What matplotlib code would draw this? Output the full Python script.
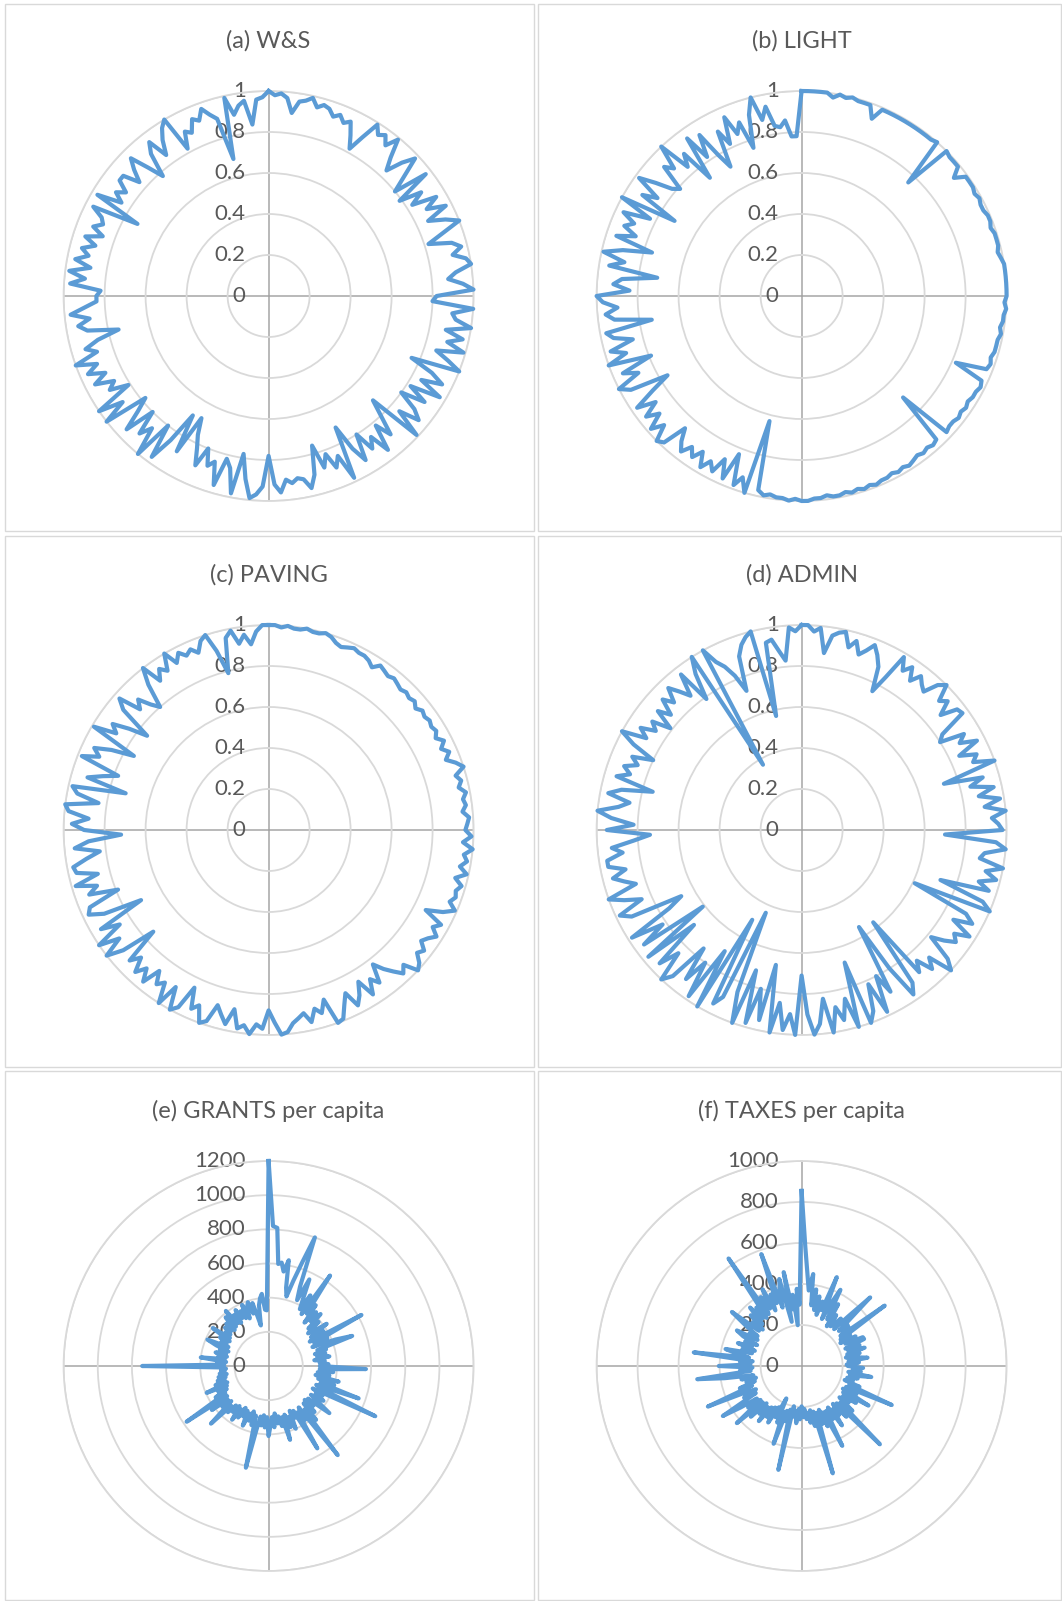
import matplotlib
matplotlib.use('Agg')
import matplotlib.pyplot as plt
import numpy as np
from matplotlib.patches import Rectangle
from matplotlib.transforms import offset_copy

# values, clockwise from the top, 200 points each
ws_vals = [
    1.00,0.98,0.99,0.97,0.90,0.96,0.97,0.99,0.95,0.97,0.96,0.93,0.95,0.92,0.94,0.88,0.82,0.90,0.99,0.95,0.97,0.93,0.99,0.90,0.84,
    0.92,0.98,0.88,0.80,0.97,0.79,0.90,0.83,0.95,0.88,0.97,0.86,0.94,1.00,0.90,0.82,0.93,0.97,0.92,0.98,1.00,0.92,0.88,0.95,1.00,
    0.82,0.80,1.00,0.90,0.92,1.00,0.88,0.97,0.90,0.99,0.86,0.93,1.00,0.76,0.88,0.95,0.85,0.97,0.82,0.92,0.80,0.90,0.95,0.85,0.99,
    0.72,0.80,0.90,0.82,0.95,0.85,0.90,0.80,0.93,0.85,0.72,0.98,0.85,0.90,0.82,0.88,0.76,0.90,0.96,0.91,0.90,0.92,0.90,0.96,0.92,
    0.78,0.93,0.97,0.99,0.90,0.78,0.98,0.86,0.82,0.96,0.85,0.88,0.80,0.90,0.82,0.76,0.68,0.88,0.69,0.85,0.97,0.80,1.00,0.86,0.92,
    0.80,0.95,0.85,0.78,1.00,0.88,1.00,0.81,0.90,0.86,0.95,0.88,0.96,0.90,1.00,0.88,0.93,0.86,0.75,0.90,0.94,0.88,0.97,0.90,0.84,
    0.84,0.82,0.97,0.90,0.98,0.88,0.96,0.90,0.94,0.88,0.94,0.86,0.92,0.88,0.90,0.96,0.73,0.97,0.85,0.90,0.86,0.92,0.92,0.84,0.90,
    0.95,0.86,0.78,0.90,0.95,0.85,0.92,0.97,1.00,0.82,0.90,0.88,0.94,0.92,0.97,0.93,0.90,0.69,0.99,0.90,0.94,0.96,0.84,0.96,0.97,
]

light_vals = [
    1.00,1.00,1.00,1.00,1.00,0.98,1.00,0.99,1.00,0.99,0.99,0.99,0.93,0.99,0.99,0.99,0.99,0.99,0.99,0.99,0.99,0.99,0.99,1.00,0.76,
    1.00,0.99,0.99,0.99,0.94,0.99,0.99,0.99,0.98,0.99,0.98,0.98,0.99,0.99,0.98,0.99,0.99,0.99,0.98,0.99,1.00,1.00,1.00,1.00,1.00,
    1.00,0.99,1.00,0.99,0.99,0.98,0.99,0.98,0.98,0.98,0.97,0.98,0.97,0.82,0.97,0.98,0.97,0.97,0.96,0.97,0.96,0.97,0.96,0.96,0.97,
    0.70,0.96,0.97,0.96,0.97,0.96,0.97,0.98,0.97,0.98,0.97,0.98,0.98,0.99,0.98,0.99,0.98,0.99,0.98,0.99,0.99,0.98,0.99,0.99,1.00,
    1.00,0.99,1.00,0.99,0.99,0.98,0.99,0.97,0.63,1.00,0.93,0.98,0.83,0.97,0.88,0.96,0.92,0.97,0.90,0.95,0.91,0.96,0.92,0.86,0.98,
    1.00,0.92,0.98,0.90,0.96,0.88,0.97,0.86,0.76,0.95,1.00,0.88,0.95,0.79,1.00,0.90,0.97,0.85,0.94,0.97,0.74,0.92,0.96,0.90,0.97,
    1.00,0.84,0.92,0.88,0.71,0.95,0.88,0.99,0.90,0.76,0.95,0.86,0.93,0.89,0.96,0.83,1.00,0.72,0.92,0.85,0.98,0.90,0.82,0.79,0.92,
    0.88,1.00,0.84,0.90,0.73,0.95,0.82,0.93,0.80,0.72,0.90,0.82,0.95,0.85,0.90,0.76,0.92,1.00,0.88,0.94,0.84,0.83,0.86,0.78,0.78,
]

paving_vals = [
    1.00,1.00,0.99,1.00,0.99,0.99,1.00,0.99,0.99,1.00,0.99,0.97,0.96,0.97,0.98,0.97,0.97,0.96,0.94,0.97,0.96,0.95,0.96,0.95,0.94,
    0.95,0.94,0.95,0.93,0.95,0.94,0.95,0.94,0.95,0.93,0.96,0.93,0.96,0.93,0.97,1.00,0.95,0.97,0.95,0.98,0.96,0.97,0.95,0.98,0.97,
    0.96,0.99,0.95,1.00,0.96,0.98,0.95,0.99,0.94,0.98,0.96,0.97,0.95,0.99,0.94,0.86,0.96,0.93,0.97,0.94,0.92,0.96,0.94,0.98,1.00,
    0.93,0.96,0.92,0.88,0.83,0.92,0.88,0.95,0.86,0.92,0.96,0.88,0.93,0.99,1.00,0.87,0.93,0.90,0.96,0.91,0.93,0.95,0.99,1.00,0.94,
    0.88,0.97,0.95,1.00,0.96,0.98,0.89,0.97,0.93,0.89,0.98,1.00,0.92,0.95,0.85,0.97,1.00,0.89,1.00,0.90,0.93,0.87,0.96,0.90,0.95,
    0.88,0.93,0.75,0.92,1.00,0.90,1.00,0.86,0.95,0.71,0.90,0.97,0.95,0.79,0.93,0.88,0.98,0.86,0.96,0.97,0.90,0.83,0.95,0.88,0.72,
    0.90,0.96,0.88,0.98,1.00,0.84,0.95,0.98,0.72,0.92,0.85,0.78,0.98,0.90,0.94,0.86,0.75,0.99,0.88,0.92,0.84,0.75,0.92,0.97,0.86,
    0.90,0.84,0.80,0.92,1.00,0.90,0.95,0.92,1.00,0.93,0.97,0.94,0.96,0.93,0.98,1.00,0.91,0.79,0.96,0.99,0.92,0.96,0.91,0.97,1.00,
]

admin_vals = [
    1.00,1.00,0.97,0.99,0.87,0.96,0.98,0.99,0.92,0.96,0.90,0.93,0.97,0.93,0.88,0.76,0.85,0.98,0.92,0.96,0.90,0.95,0.92,0.90,0.97,
    1.00,0.92,0.95,0.88,0.96,0.97,0.83,0.80,0.92,0.88,0.96,0.85,0.93,0.90,1.00,0.73,0.92,0.85,0.96,0.88,0.98,0.90,1.00,0.93,0.96,
    0.98,0.70,0.95,1.00,0.90,0.88,1.00,0.92,0.98,0.90,0.96,0.72,0.95,1.00,0.61,0.90,0.95,0.86,0.97,0.90,0.93,0.88,0.82,0.95,1.00,
    0.88,0.93,0.85,0.90,0.57,0.92,0.97,0.80,0.55,0.90,0.80,0.98,0.82,0.95,1.00,0.68,1.00,0.85,0.95,0.88,1.00,0.83,0.95,1.00,0.90,
    0.71,1.00,0.90,0.98,0.85,1.00,0.67,0.95,0.80,0.98,0.72,1.00,0.85,0.44,0.90,0.95,0.50,1.00,0.70,0.98,0.80,0.92,0.75,0.95,1.00,
    0.85,0.95,0.70,0.97,0.61,0.95,0.82,0.98,0.75,0.67,0.93,0.98,0.85,0.93,1.00,0.85,0.90,0.95,0.88,0.96,0.96,0.88,0.93,0.82,0.74,
    0.95,0.82,0.93,1.00,0.90,0.85,0.96,0.90,0.75,0.94,0.88,0.92,0.86,0.90,0.80,0.92,1.00,0.88,0.93,0.86,0.90,0.81,0.91,0.85,0.93,
    0.88,0.95,0.90,0.85,0.96,0.79,0.92,1.00,0.37,1.00,0.92,0.88,0.82,0.73,0.90,0.95,0.98,1.00,0.57,0.93,0.94,0.88,0.83,0.99,0.97,
]

grants_vals = [
    1200,820,810,600,610,560,630,470,420,520,640,800,500,420,560,450,380,480,360,640,380,450,330,420,360,
    430,320,390,300,330,420,300,380,280,620,300,380,280,420,520,300,350,280,340,290,360,270,330,300,350,
    300,570,300,380,290,360,280,420,300,400,320,560,300,340,690,290,360,320,380,300,360,450,300,350,290,
    380,300,420,330,660,300,380,320,560,300,340,290,400,320,380,300,450,310,360,300,340,280,360,300,350,
    410,300,360,290,350,300,380,610,300,360,280,340,300,380,290,330,280,350,300,380,290,340,300,360,320,
    477,300,360,310,420,300,580,300,360,280,330,270,395,260,330,270,310,260,300,250,290,260,280,250,270,
    740,260,300,250,400,260,300,250,320,260,300,250,330,390,260,310,280,330,270,395,280,320,290,340,300,
    350,290,380,300,408,310,360,300,380,320,360,310,390,300,370,393,320,380,300,242,360,400,424,330,326,
]

taxes_vals = [
    854,580,450,370,452,300,380,280,350,260,330,290,466,250,340,417,260,350,230,300,240,256,300,240,330,
    473,250,300,296,240,501,230,280,220,300,240,330,332,230,300,240,320,230,290,220,270,324,230,280,220,
    226,300,250,290,230,344,240,280,230,260,221,300,250,479,240,300,230,379,240,320,250,290,240,330,260,
    540,250,330,240,300,260,350,240,300,250,437,250,320,230,300,240,545,230,300,220,280,230,260,210,250,
    197,260,210,280,220,250,200,519,220,280,230,403,240,300,175,280,230,320,240,300,250,340,260,310,250,
    350,260,421,260,330,270,360,455,260,320,250,300,498,260,320,240,280,230,300,240,380,513,250,300,240,
    404,250,300,240,530,260,320,380,250,300,240,330,260,300,240,320,360,250,300,260,340,430,270,320,260,
    350,280,380,300,360,290,634,300,390,320,420,300,380,330,580,300,380,438,221,466,280,350,200,377,300,
]

titles = ['(a) W&S', '(b) LIGHT', '(c) PAVING', '(d) ADMIN',
          '(e) GRANTS per capita', '(f) TAXES per capita']
share_ticks = [0, 0.2, 0.4, 0.6, 0.8, 1]
share_labels = ['0', '0.2', '0.4', '0.6', '0.8', '1']
grants_ticks = [0, 200, 400, 600, 800, 1000, 1200]
taxes_ticks = [0, 200, 400, 600, 800, 1000]

W, H = 1062, 1601
fig = plt.figure(figsize=(W / 100, H / 100), dpi=100)
plt.rcParams['font.family'] = ['Lato', 'DejaVu Sans']

line_col = '#5b9bd5'
text_col = '#595959'

# panel frames (pixels, from top left)
col_x = [(5, 534), (538, 1061)]
row_y = [(4, 531), (536, 1067), (1071, 1600)]
centres_x = [268.6, 801.6]
centres_y = [296, 830, 1366]
title_y = [41, 575, 1111]
R = 205

panels = [
    (ws_vals, share_ticks, share_labels),
    (light_vals, share_ticks, share_labels),
    (paving_vals, share_ticks, share_labels),
    (admin_vals, share_ticks, share_labels),
    (grants_vals, grants_ticks, [str(t) for t in grants_ticks]),
    (taxes_vals, taxes_ticks, [str(t) for t in taxes_ticks]),
]

for k, (vals, ticks, labels) in enumerate(panels):
    r, c = divmod(k, 2)
    x0, x1 = col_x[c]
    y0, y1 = row_y[r]
    fig.patches.append(Rectangle((x0 / W, 1 - y1 / H), (x1 - x0) / W, (y1 - y0) / H,
                                 transform=fig.transFigure, fill=False,
                                 edgecolor='#d9d9d9', lw=1.0))
    cx, cy = centres_x[c], centres_y[r]
    ax = fig.add_axes([(cx - R) / W, 1 - (cy + R) / H, 2 * R / W, 2 * R / H],
                      projection='polar')
    ax.set_theta_zero_location('N')
    ax.set_theta_direction(-1)
    rmax = ticks[-1]
    ax.set_ylim(0, rmax)
    ax.set_xticks([])
    ax.set_yticks(ticks[1:])
    ax.set_yticklabels([])
    ax.yaxis.grid(True, color='#d9d9d9', lw=1.3)
    ax.spines['polar'].set_color('#d9d9d9')
    ax.spines['polar'].set_linewidth(1.3)
    ax.patch.set_alpha(0)

    # the four axis spokes
    for ang in [0, np.pi / 2, np.pi, 3 * np.pi / 2]:
        ax.plot([ang, ang], [0, rmax], color='#a6a6a6', lw=1.1, zorder=1)

    n = len(vals)
    theta = np.arange(n + 1) * 2 * np.pi / n
    v = list(vals) + [vals[0]]
    ax.plot(theta, v, color=line_col, lw=3.0, solid_joinstyle='round',
            zorder=3, clip_on=False)

    trans = offset_copy(ax.transData, fig=fig, x=-23, y=0, units='dots')
    for t, lab in zip(ticks, labels):
        ax.text(0, t, lab, transform=trans, ha='right', va='center',
                fontsize=16, color=text_col, zorder=2)

    fig.text(cx / W, 1 - title_y[r] / H, titles[k], ha='center', va='center',
             fontsize=17, color=text_col)

fig.savefig('out.png', dpi=100)
